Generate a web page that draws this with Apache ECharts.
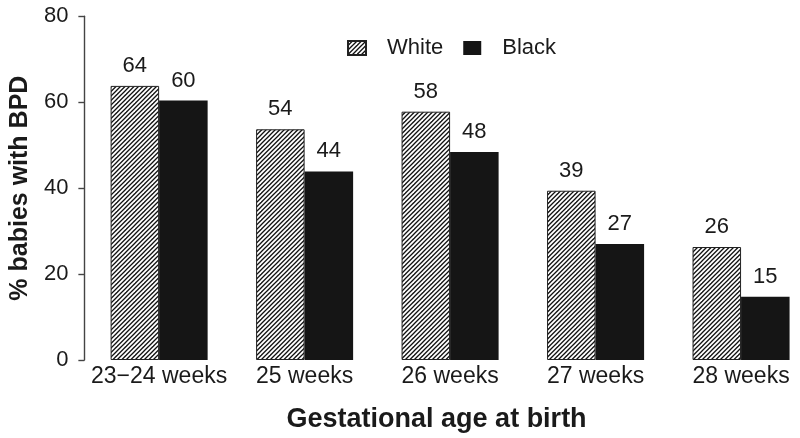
<!DOCTYPE html>
<html>
<head>
<meta charset="utf-8">
<script src="https://cdn.jsdelivr.net/npm/echarts@6/dist/echarts.min.js"></script>
<style>
html,body{margin:0;padding:0;background:#fff;overflow:hidden;width:800px;height:438px;}
#chart{width:830px;height:438px;}
</style>
</head>
<body>
<div id="chart"></div>
<script>
var categories = ['23\u221224 weeks', '25 weeks', '26 weeks', '27 weeks', '28 weeks'];
var whiteValues = [63.8, 53.7, 57.8, 39.4, 26.3];
var blackValues = [60.4, 43.9, 48.4, 27.0, 14.7];
var whiteLabels = [64, 54, 58, 39, 26];
var blackLabels = [60, 44, 48, 27, 15];
var yTicks = [0, 20, 40, 60, 80];

var FONT = "'Liberation Sans', Arial, Helvetica, sans-serif";
var TXT = '#1a1a1a';

function makeHatch() {
  var s = 9;
  var c = document.createElement('canvas');
  c.width = s; c.height = s;
  var ctx = c.getContext('2d');
  ctx.fillStyle = '#ffffff';
  ctx.fillRect(0, 0, s, s);
  ctx.strokeStyle = '#111111';
  ctx.lineWidth = 1.3;
  [0, 4.5, 9, 13.5, 18].forEach(function (k) {
    ctx.beginPath();
    ctx.moveTo(k + 1, -1);
    ctx.lineTo(k - s - 1, s + 1);
    ctx.stroke();
  });
  return c;
}
var hatch = { image: makeHatch(), repeat: 'repeat' };

var chart = echarts.init(document.getElementById('chart'), null, { renderer: 'canvas' });
chart.setOption({
  animation: false,
  backgroundColor: '#ffffff',
  textStyle: { fontFamily: FONT, color: TXT },
  legend: {
    data: ['White', 'Black'],
    icon: 'rect',
    left: 342,
    top: 32,
    itemWidth: 18,
    itemHeight: 14,
    itemGap: 20,
    textStyle: { fontSize: 22, color: TXT, fontFamily: FONT, padding: [0, 0, 0, 16] }
  },
  grid: { left: 84.5, top: 16.3, width: 729.3, height: 344.7, containLabel: false },
  xAxis: {
    type: 'category',
    data: categories,
    axisLine: { show: false },
    axisTick: { show: false },
    axisLabel: { fontSize: 23, color: TXT, margin: 5, fontFamily: FONT, interval: 0 },
    name: 'Gestational age at birth',
    nameLocation: 'middle',
    nameGap: 46,
    nameTextStyle: { fontSize: 27, fontWeight: 'bold', color: TXT, fontFamily: FONT, padding: [0, 27, 0, 0] }
  },
  yAxis: {
    type: 'value',
    min: yTicks[0],
    max: yTicks[yTicks.length - 1],
    interval: 20,
    offset: 2,
    axisLine: { show: true, lineStyle: { color: '#444', width: 1.4 } },
    axisTick: { show: true, length: 6, lineStyle: { color: '#444', width: 1.4 } },
    axisLabel: { fontSize: 22, color: TXT, margin: 16, fontFamily: FONT },
    splitLine: { show: false },
    name: '% babies with BPD',
    nameLocation: 'middle',
    nameGap: 51,
    nameTextStyle: { fontSize: 25, fontWeight: 'bold', color: TXT, fontFamily: FONT }
  },
  series: [
    {
      name: 'White',
      type: 'bar',
      data: whiteValues,
      barGap: '0%',
      barCategoryGap: '33.3%',
      itemStyle: { color: hatch, borderColor: '#222', borderWidth: 1 },
      label: {
        show: true, position: 'top', distance: 9, fontSize: 22, color: TXT, fontFamily: FONT,
        formatter: function (p) { return whiteLabels[p.dataIndex]; }
      }
    },
    {
      name: 'Black',
      type: 'bar',
      data: blackValues,
      itemStyle: { color: '#151515' },
      label: {
        show: true, position: 'top', distance: 9, fontSize: 22, color: TXT, fontFamily: FONT,
        formatter: function (p) { return blackLabels[p.dataIndex]; }
      }
    }
  ]
});
</script>
</body>
</html>
